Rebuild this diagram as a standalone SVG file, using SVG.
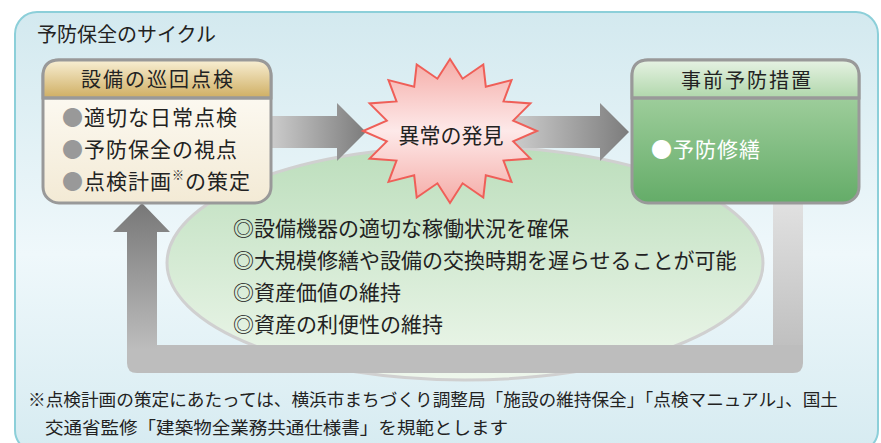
<svg xmlns="http://www.w3.org/2000/svg" width="881" height="443" viewBox="0 0 881 443">
<style>
.t{font-family:"Noto Sans CJK JP","Noto Sans",sans-serif;fill:#222}
.h{font-size:20px;letter-spacing:2px;text-anchor:middle}
.b{font-size:21px}
.e{font-size:21px}
.f{font-size:17.5px}
.box{stroke:#999;stroke-width:3}
</style>
<defs>
<linearGradient id="bg" x1="0" y1="0" x2="0" y2="1">
<stop offset="0" stop-color="#d3e9ef"/><stop offset="0.55" stop-color="#eff8fb"/><stop offset="1" stop-color="#d6ebf1"/>
</linearGradient>
<linearGradient id="gold" x1="0" y1="0" x2="0" y2="1">
<stop offset="0" stop-color="#f8efd4"/><stop offset="1" stop-color="#cfae62"/>
</linearGradient>
<linearGradient id="cream" x1="0" y1="0" x2="0" y2="1">
<stop offset="0" stop-color="#fffefa"/><stop offset="1" stop-color="#f3ead5"/>
</linearGradient>
<linearGradient id="ghead" x1="0" y1="0" x2="0" y2="1">
<stop offset="0" stop-color="#e6f2e3"/><stop offset="1" stop-color="#b0d7ab"/>
</linearGradient>
<linearGradient id="gbody" x1="0" y1="0" x2="0" y2="1">
<stop offset="0" stop-color="#b2d9ad"/><stop offset="1" stop-color="#64ac68"/>
</linearGradient>
<linearGradient id="ell" x1="0" y1="0" x2="0" y2="1">
<stop offset="0" stop-color="#bcdebc"/><stop offset="1" stop-color="#eef7ec"/>
</linearGradient>
<linearGradient id="star" x1="0" y1="0" x2="0" y2="1">
<stop offset="0" stop-color="#f5aca7"/><stop offset="0.5" stop-color="#fde9e9"/><stop offset="1" stop-color="#f5aca7"/>
</linearGradient>
<linearGradient id="harrow" x1="0" y1="0" x2="1" y2="0">
<stop offset="0" stop-color="#cbcbcb"/><stop offset="1" stop-color="#7c7c7c"/>
</linearGradient>
<linearGradient id="upl" x1="0" y1="0" x2="0" y2="1">
<stop offset="0" stop-color="#777"/><stop offset="1" stop-color="#bdbdbd"/>
</linearGradient>
<linearGradient id="rdn" x1="0" y1="0" x2="0" y2="1">
<stop offset="0" stop-color="#e2e2e2"/><stop offset="1" stop-color="#bdbdbd"/>
</linearGradient>
</defs>

<g id="frame">
<rect x="15" y="12" width="863" height="440" rx="22" fill="url(#bg)" stroke="#8ccfd9" stroke-width="2"/>
<text class="t" x="37" y="42" font-size="20">予防保全のサイクル</text>
</g>

<g id="benefits">
<ellipse cx="465" cy="263" rx="298" ry="117" fill="url(#ell)" stroke="#d0d0d0" stroke-width="3"/>
</g>

<g id="connectors">
<rect x="773" y="198" width="30" height="160" fill="url(#rdn)"/>
<path d="M127 345 H803 V363 Q803 373 793 373 H137 Q127 373 127 363 Z" fill="#bdbdbd"/>
<polygon points="127,350 127,232 113,232 142,203 170,232 157,232 157,350" fill="url(#upl)"/>
<polygon points="272,116 337,116 337,103 366,132 337,161 337,148 272,148" fill="url(#harrow)"/>
<polygon points="515,116 600,116 600,103 629,132 600,161 600,148 515,148" fill="url(#harrow)"/>
</g>

<g id="benefits-text">
<text class="t e" x="233" y="236">◎設備機器の適切な稼働状況を確保</text>
<text class="t e" x="233" y="268">◎大規模修繕や設備の交換時期を遅らせることが可能</text>
<text class="t e" x="233" y="300">◎資産価値の維持</text>
<text class="t e" x="233" y="332">◎資産の利便性の維持</text>
</g>

<g id="inspection">
<rect class="box" x="43" y="60" width="228" height="143" rx="16" fill="url(#cream)"/>
<path class="box" d="M43 98 V76 Q43 60 59 60 H255 Q271 60 271 76 V98 Z" fill="url(#gold)"/>
<line x1="43" y1="98" x2="271" y2="98" stroke="#999" stroke-width="3"/>
<text class="t h" x="158" y="87">設備の巡回点検</text>
<text class="t b" x="62" y="125" letter-spacing="1"><tspan fill="#999">●</tspan>適切な日常点検</text>
<text class="t b" x="62" y="157" letter-spacing="1"><tspan fill="#999">●</tspan>予防保全の視点</text>
<text class="t b" x="62" y="189" letter-spacing="1"><tspan fill="#999">●</tspan>点検計画<tspan font-size="12" dy="-9">※</tspan><tspan dy="9">の策定</tspan></text>
</g>

<g id="anomaly">
<polygon points="450,59 462.6,78.7 483.3,64.5 485.8,86.7 511.5,80.1 503.5,101.4 530.4,103.4 513.2,120.6 537,131 513.2,141.4 530.4,158.6 503.5,160.6 511.5,181.9 485.8,175.3 483.3,197.5 462.6,183.3 450,203 437.4,183.3 416.7,197.5 414.2,175.3 388.5,181.9 396.5,160.6 369.6,158.6 386.8,141.4 363,131 386.8,120.6 369.6,103.4 396.5,101.4 388.5,80.1 414.2,86.7 416.7,64.5 437.4,78.7" fill="url(#star)" stroke="#ef5f58" stroke-width="2" stroke-linejoin="miter"/>
<text class="t" x="451" y="143" font-size="21" text-anchor="middle">異常の発見</text>
</g>

<g id="preventive">
<rect class="box" x="632" y="60" width="227" height="143" rx="16" fill="url(#gbody)"/>
<path class="box" d="M632 98 V76 Q632 60 648 60 H843 Q859 60 859 76 V98 Z" fill="url(#ghead)"/>
<line x1="632" y1="98" x2="859" y2="98" stroke="#999" stroke-width="3"/>
<text class="t h" x="747" y="88">事前予防措置</text>
<text class="t b" x="651" y="157" style="fill:#fff" letter-spacing="1">●予防修繕</text>
</g>

<g id="note">
<text class="t f" x="28" y="406" textLength="810" lengthAdjust="spacingAndGlyphs">※点検計画の策定にあたっては、横浜市まちづくり調整局「施設の維持保全」「点検マニュアル」、国土</text>
<text class="t f" x="45" y="434" textLength="463" lengthAdjust="spacingAndGlyphs">交通省監修「建築物全業務共通仕様書」を規範とします</text>
</g>
</svg>
